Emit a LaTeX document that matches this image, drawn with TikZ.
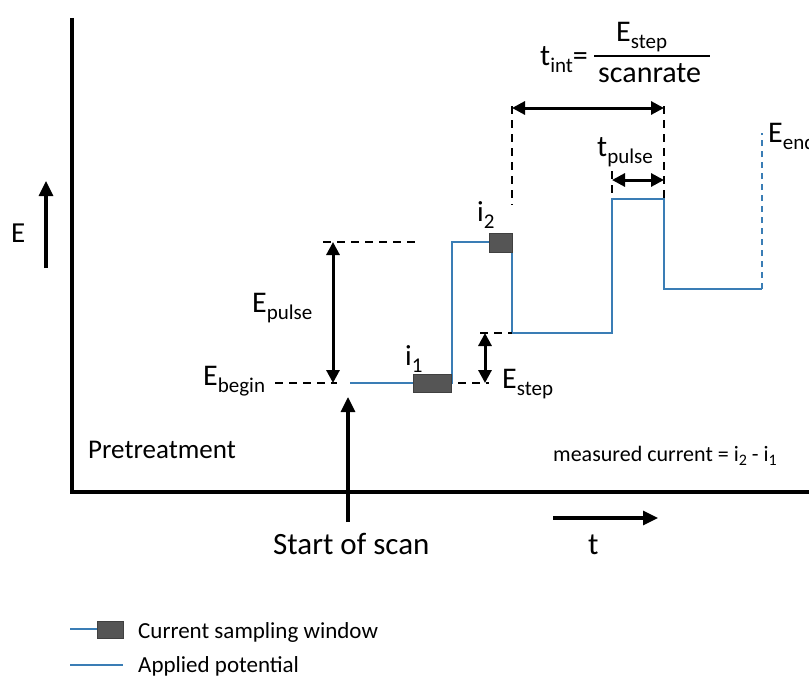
\documentclass[tikz,border=0pt]{standalone}
\usepackage{fontspec}
\setmainfont{Carlito}
\usetikzlibrary{arrows.meta}
\definecolor{potblue}{HTML}{3A7DB5}
\definecolor{boxgray}{HTML}{555555}
\newcommand\lo[1]{\raisebox{-7pt}{\fontsize{21}{21}\selectfont #1}}
\newcommand\los[1]{\raisebox{-4pt}{\fontsize{16}{16}\selectfont #1}}
\begin{document}
\begin{tikzpicture}[x=1pt,y=-1pt,
  axis/.style={line width=3.2pt},
  bigarrow/.style={line width=3.2pt,-{Triangle[length=15pt,width=14pt]}},
  dblarrow/.style={line width=3pt,{Triangle[length=13pt,width=13pt]}-{Triangle[length=13pt,width=13pt]}},
  guide/.style={line width=2.2pt,dash pattern=on 8pt off 6pt},
  pot/.style={line width=2.4pt,potblue},
  potdash/.style={pot,dash pattern=on 6pt off 5pt},
  sample/.style={draw=black!75,fill=boxgray,line width=1pt,inner sep=0pt},
  lbl/.style={inner sep=0pt,anchor=base west,font=\fontsize{30}{30}\selectfont},
  lblsmall/.style={inner sep=0pt,anchor=base west,font=\fontsize{23}{23}\selectfont},
]
\useasboundingbox (0,0) rectangle (809,677);

% axes
\coordinate (ytop) at (72,18);
\coordinate (orig) at (72,492);
\coordinate (xend) at (809,492);
\draw[axis] (ytop) -- (orig) -- (xend);

% E arrow
\coordinate (ea0) at (46,268);
\coordinate (ea1) at (46,181);
\draw[bigarrow] (ea0) -- (ea1);
\node[lbl,font=\fontsize{29}{29}\selectfont] (Elab) at (11,242) {E};

% start of scan arrow
\coordinate (sa0) at (348,522);
\coordinate (sa1) at (348,397);
\draw[bigarrow] (sa0) -- (sa1);
\node[lbl,font=\fontsize{31}{31}\selectfont] (start) at (273,554) {Start of scan};

% t arrow
\coordinate (ta0) at (553,518);
\coordinate (ta1) at (658,518);
\draw[bigarrow] (ta0) -- (ta1);
\node[lbl,font=\fontsize{31}{31}\selectfont] (tlab) at (588,554) {t};

\node[lbl,font=\fontsize{27}{27}\selectfont] (pre) at (88,458) {Pretreatment};
\node[lbl,font=\fontsize{22}{22}\selectfont] (meas) at (553,461) {measured current = i\los{2} - i\los{1}};

% applied potential
\coordinate (p0) at (350,383);
\coordinate (p1) at (452,383);
\coordinate (p2) at (452,242);
\coordinate (p3) at (512,242);
\coordinate (p4) at (512,333);
\coordinate (p5) at (612,333);
\coordinate (p6) at (612,199);
\coordinate (p7) at (664,199);
\coordinate (p8) at (664,289);
\coordinate (p9) at (762,289);
\coordinate (p10) at (762,133);
\draw[pot] (p0) -- (p1) -- (p2) -- (p3) -- (p4) -- (p5) -- (p6) -- (p7) -- (p8) -- (p9);
\draw[potdash] (p9) -- (p10);

% sampling windows
\node[sample,minimum width=38pt,minimum height=18pt] (w1) at (432,383) {};
\node[sample,minimum width=23pt,minimum height=19pt] (w2) at (500.5,242.5) {};
\node[lbl,font=\fontsize{29}{29}\selectfont] (i1) at (405,365) {i\lo{1}};
\node[lbl,font=\fontsize{29}{29}\selectfont] (i2) at (477,221) {i\lo{2}};

% guides
\coordinate (g1a) at (323,242); \coordinate (g1b) at (415,242);
\draw[guide] (g1a) -- (g1b);
\coordinate (g2a) at (275,383); \coordinate (g2b) at (337,383);
\draw[guide] (g2a) -- (g2b);
\coordinate (g3a) at (458,383); \coordinate (g3b) at (489,383);
\draw[guide] (g3a) -- (g3b);
\coordinate (g4a) at (480,333); \coordinate (g4b) at (512,333);
\draw[guide] (g4a) -- (g4b);
\coordinate (g5a) at (512,106); \coordinate (g5b) at (512,205);
\draw[guide] (g5a) -- (g5b);
\coordinate (g6a) at (664,106); \coordinate (g6b) at (664,199);
\draw[guide] (g6a) -- (g6b);
\coordinate (g7a) at (612,171); \coordinate (g7b) at (612,195);
\draw[guide] (g7a) -- (g7b);

% dimension arrows
\coordinate (ep0) at (333,383); \coordinate (ep1) at (333,242);
\draw[dblarrow] (ep0) -- (ep1);
\coordinate (es0) at (485,383); \coordinate (es1) at (485,333);
\draw[dblarrow] (es0) -- (es1);
\coordinate (ti0) at (512,108); \coordinate (ti1) at (664,108);
\draw[dblarrow] (ti0) -- (ti1);
\coordinate (tp0) at (612,180); \coordinate (tp1) at (664,180);
\draw[dblarrow] (tp0) -- (tp1);

% labels
\node[lbl] (Epulse) at (252,312) {E\lo{pulse}};
\node[lbl] (Ebegin) at (203,385) {E\lo{begin}};
\node[lbl] (Estep) at (502,388) {E\lo{step}};
\node[lbl] (Eend) at (768,142) {E\lo{end}};
\node[lbl] (tpulse) at (597,156) {t\lo{pulse}};

% formula
\node[lbl] (tint) at (540,66) {t\lo{int}=};
\node[lbl] (num) at (616,42) {E\lo{step}};
\node[lbl] (den) at (598,82) {scanrate};
\coordinate (fb0) at (594,56); \coordinate (fb1) at (710,56);
\draw[line width=2.4pt] (fb0) -- (fb1);

% legend
\coordinate (l1a) at (70,629); \coordinate (l1b) at (97,629);
\draw[pot] (l1a) -- (l1b);
\node[sample,minimum width=26pt,minimum height=17pt,anchor=west] (lbox) at (97,629.5) {};
\node[lblsmall] (leg1) at (138,638) {Current sampling window};
\coordinate (l2a) at (70,665); \coordinate (l2b) at (123,665);
\draw[pot] (l2a) -- (l2b);
\node[lblsmall] (leg2) at (138,672) {Applied potential};
\end{tikzpicture}
\end{document}
